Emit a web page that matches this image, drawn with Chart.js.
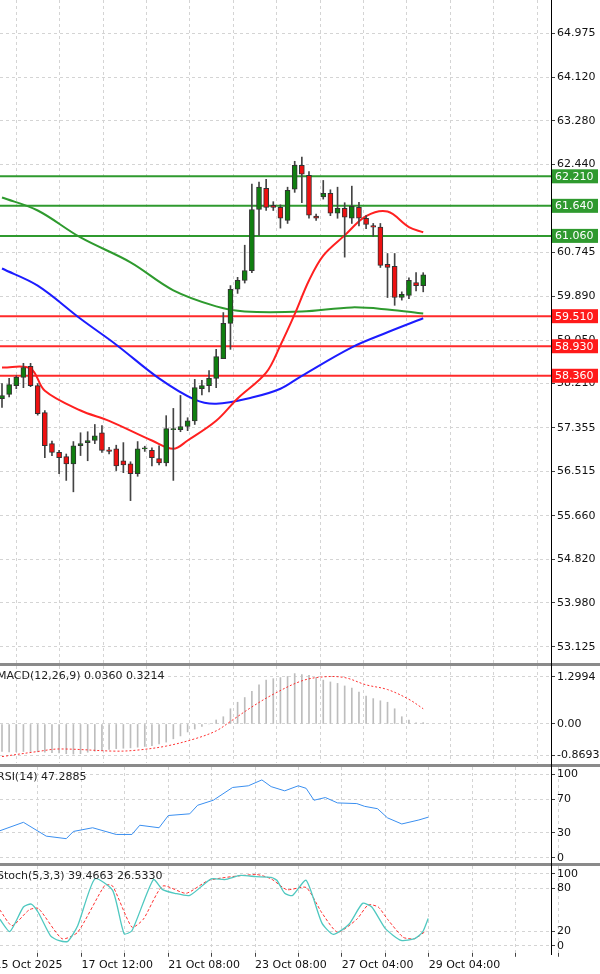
<!DOCTYPE html>
<html>
<head>
<meta charset="utf-8">
<script src="https://cdn.jsdelivr.net/npm/chart.js@4"></script>
<style>
  body { margin: 0; background: #fff; width: 600px; height: 974px; position: relative; overflow: hidden; }
  canvas { position: absolute; left: 0; }
  .sep { position: absolute; left: 0; width: 600px; height: 3px; background: #8a8a8a; }
  .vline { position: absolute; left: 551px; top: 0; width: 1px; height: 955px; background: #000; }
  .title { position: absolute; left: -3px; font: 11px "DejaVu Sans", sans-serif; color: #222; }
</style>
</head>
<body>
<canvas id="main" width="600" height="663" style="top:0"></canvas>
<div class="sep" style="top:663px"></div>
<canvas id="macd" width="600" height="97" style="top:666px"></canvas>
<div class="sep" style="top:764px"></div>
<canvas id="rsi" width="600" height="96" style="top:767px"></canvas>
<div class="sep" style="top:863px"></div>
<canvas id="stoch" width="600" height="108" style="top:866px"></canvas>
<div class="vline"></div>
<div class="title" style="top:669px">MACD(12,26,9) 0.0360 0.3214</div>
<div class="title" style="top:770px">RSI(14) 47.2885</div>
<div class="title" style="top:869px">Stoch(5,3,3) 39.4663 26.5330</div>
<script>
// candles: open, high, low, close (one per bar)
const opens  = [57.92,58.00,58.17,58.33,58.54,58.17,57.65,57.05,56.88,56.80,56.66,57.01,57.07,57.11,57.26,56.93,56.95,56.72,56.66,56.47,56.95,56.92,56.76,56.68,57.32,57.32,57.38,57.49,58.11,58.17,58.31,58.69,59.37,60.03,60.20,60.39,61.57,61.98,61.65,61.61,61.36,61.96,62.42,62.23,61.44,61.81,61.88,61.50,61.59,61.40,61.61,61.40,61.26,61.23,60.51,60.47,59.87,59.91,60.16,60.10];
const highs  = [58.21,58.31,58.36,58.60,58.60,58.21,57.69,57.10,56.92,56.85,57.09,57.26,57.28,57.42,57.40,56.98,57.02,57.07,56.70,57.09,57.00,56.97,57.01,57.59,57.73,57.98,57.55,58.29,58.27,58.46,58.87,59.58,60.10,60.26,60.88,62.06,62.10,62.15,61.72,61.66,62.00,62.50,62.58,62.30,61.48,62.13,61.95,62.00,61.70,62.02,61.71,61.45,61.30,61.30,60.72,60.72,59.98,60.25,60.35,60.35];
const lows   = [57.75,57.95,58.11,58.13,58.15,57.60,56.78,56.82,56.47,56.34,56.12,56.82,56.72,57.05,56.88,56.85,56.53,56.49,55.95,56.42,56.90,56.62,56.64,56.62,56.34,57.28,57.30,57.42,57.99,58.05,58.13,58.85,58.87,59.95,60.15,60.35,61.07,61.55,61.55,61.21,61.30,61.90,61.70,61.40,61.36,61.77,61.45,61.40,60.65,61.30,61.25,61.20,61.05,60.45,59.87,59.72,59.82,59.85,60.00,59.98];
const closes = [57.98,58.19,58.33,58.52,58.17,57.63,57.01,56.88,56.78,56.66,57.01,57.05,57.11,57.20,56.92,56.90,56.62,56.64,56.47,56.95,56.97,56.78,56.68,57.34,57.34,57.38,57.49,58.13,58.17,58.31,58.73,59.37,60.03,60.20,60.39,61.57,62.00,61.61,61.61,61.40,61.94,62.42,62.25,61.46,61.40,61.88,61.50,61.59,61.42,61.63,61.40,61.28,61.23,60.49,60.45,59.87,59.93,60.20,60.10,60.31];

// moving averages read at key bars
const maRedX   = [0,4,6,11,15,21,24,26,30,33,37,39,41,43,45,48,51,54,57,59];
const maRedY   = [58.52,58.50,58.07,57.69,57.49,57.11,56.95,57.11,57.49,57.92,58.42,58.95,59.55,60.20,60.68,61.07,61.44,61.53,61.23,61.13];
const maBlueX  = [0,5,11,16,22,27,30,35,39,42,49,54,59];
const maBlueY  = [60.43,60.10,59.46,58.96,58.31,57.90,57.82,57.94,58.11,58.36,58.91,59.20,59.47];
const maGreenX = [0,5,11,18,24,30,34,42,49,54,59];
const maGreenY = [61.80,61.55,61.03,60.55,60.01,59.70,59.60,59.60,59.68,59.64,59.56];

const resistLevels = [62.210, 61.640, 61.060];
const supportLevels = [59.510, 58.930, 58.360];
const priceTicks = [64.975,64.120,63.280,62.440,60.745,59.890,59.050,58.210,57.355,56.515,55.660,54.820,53.980,53.125];

const macdHist = [-0.76,-0.77,-0.77,-0.76,-0.76,-0.77,-0.78,-0.79,-0.80,-0.82,-0.83,-0.82,-0.78,-0.75,-0.72,-0.70,-0.68,-0.67,-0.66,-0.64,-0.62,-0.60,-0.55,-0.50,-0.41,-0.33,-0.22,-0.14,-0.07,0.00,0.11,0.20,0.42,0.60,0.73,0.90,1.08,1.21,1.25,1.28,1.31,1.39,1.36,1.34,1.28,1.21,1.16,1.12,1.05,0.99,0.88,0.77,0.70,0.64,0.60,0.42,0.20,0.11,0.03,0.036];
const macdSigX = [0,5,8,16,19,23,27,30,32,35,38,42,45,48,51,54,57,59];
const macdSigY = [-0.90,-0.76,-0.69,-0.75,-0.72,-0.61,-0.41,-0.19,0.07,0.47,0.82,1.19,1.30,1.28,1.08,0.95,0.68,0.42];

const rsiX = [-0.3,3,6.2,9,10,12.7,16,18.2,19.3,22,23.3,26.3,27.4,29.6,32.3,34.5,36.4,37.7,39.6,41.5,42.6,43.7,45.3,47,49.7,50.8,52.6,54,56,58.4,59.7];
const rsiY = [32.4,42.5,26,23,31.6,36,28,28,39,36,50.6,52.6,62.8,68.8,84,86,93,85,80,86,83,68.8,72,65.6,64.8,61.5,58.7,47.8,40.5,45.3,48.6];

const stochKX = [-0.3,1.1,3,4.1,5.1,6.8,7.9,9.2,10.6,13,15.5,17.1,18.2,21.2,22.5,24.2,26.3,29.3,31.2,33.4,35.6,37.7,38.5,39.6,40.7,42.6,44.8,46.4,48.6,50.5,51.8,53.7,55.9,57.8,58.9,59.7];
const stochKY = [37,20,54,58,46,14,7.7,6.3,28,93,77,17,21,92,78,73,70,93,92,97.7,96,95,91,73,70,91,32,16,30,59,54,24,7.7,10,19,38];
const stochDX = [-0.3,1.4,3.8,5.1,8.4,10.6,14.4,15.5,18.2,19.8,22.5,25.8,29,35.6,37.7,39.9,42.6,44.8,47,49.7,51.3,52.7,54,56.2,57.8,59.4];
const stochDY = [50,28,50,52,10,19,84,83,26,37,83,73,91,99,93,78,81,46,19,37,57,54,37,12,10,21];

const xTickLabels = ['15 Oct 2025','','17 Oct 12:00','','21 Oct 08:00','','23 Oct 08:00','','27 Oct 04:00','','29 Oct 04:00','','',''];

Chart.defaults.font = { family: 'DejaVu Sans', size: 11 };
Chart.defaults.color = '#111';
Chart.defaults.animation = false;
Chart.defaults.plugins.legend.display = false;
Chart.defaults.plugins.tooltip.enabled = false;

const X_MIN = -0.28, X_MAX = 76.9;
const pts = (xs, ys) => xs.map((x, i) => ({ x, y: ys[i] }));
const gridStyle = { color: '#d4d4d4', tickLength: 4, tickColor: '#444' };
const noPad = s => { s.paddingTop = 0; s.paddingBottom = 0; s.paddingLeft = 0; s.paddingRight = 0; };

function xScale(showLabels) {
  return {
    type: 'linear', min: X_MIN, max: X_MAX, offset: false,
    afterBuildTicks: s => { s.ticks = xTickLabels.map((_, k) => ({ value: 5.04 + 6.08 * (k - 1) })); },
    afterFit: s => { noPad(s); if (!showLabels) s.height = 0; },
    grid: { ...gridStyle, drawTicks: showLabels },
    border: { display: false, dash: [3, 3] },
    ticks: {
      display: showLabels, autoSkip: false, maxRotation: 0, align: 'start', padding: 2,
      callback: (v, i) => xTickLabels[i]
    }
  };
}
function yScale(min, max, ticks, fmt) {
  return {
    position: 'right', min, max,
    afterBuildTicks: s => { s.ticks = ticks.map(v => ({ value: v })); },
    afterFit: s => { noPad(s); s.width = 49; },
    grid: gridStyle,
    border: { display: false, dash: [3, 3] },
    ticks: { padding: 2, callback: fmt }
  };
}
const line = (data, color, width, extra) => Object.assign({
  type: 'line', data, borderColor: color, borderWidth: width, pointRadius: 0, tension: 0.35, order: 2
}, extra || {});

// level labels on the right axis
const levelBoxes = {
  id: 'levelBoxes',
  afterDraw(chart) {
    const { ctx, scales: { y } } = chart;
    const draw = (v, c) => {
      const py = y.getPixelForValue(v);
      ctx.fillStyle = c;
      ctx.fillRect(552, py - 7, 46, 14);
      ctx.fillStyle = '#fff';
      ctx.font = '11px "DejaVu Sans"';
      ctx.textBaseline = 'middle';
      ctx.fillText(v.toFixed(3), 555, py + 0.5);
    };
    resistLevels.forEach(v => draw(v, '#2f9a2f'));
    supportLevels.forEach(v => draw(v, '#ff1a1a'));
  }
};

const idx = opens.map((_, i) => i);
const up = idx.map(i => closes[i] >= opens[i]);
const levelLine = (v, c) => line([{ x: X_MIN, y: v }, { x: X_MAX, y: v }], c, 2, { tension: 0, order: 3 });

new Chart(document.getElementById('main'), {
  type: 'bar',
  data: {
    datasets: [
      { data: idx.map(i => ({ x: i, y: [opens[i], closes[i]] })), backgroundColor: up.map(u => u ? '#0f7f0f' : '#ee1111'),
        borderColor: '#333', borderWidth: 1, borderSkipped: false, barThickness: 5, grouped: false, order: 0 },
      { data: idx.map(i => ({ x: i, y: [lows[i], highs[i]] })), backgroundColor: '#444', barThickness: 1, grouped: false, order: 1 },
      line(pts(maRedX, maRedY), '#ff2020', 2),
      line(pts(maBlueX, maBlueY), '#1c1cff', 2),
      line(pts(maGreenX, maGreenY), '#2e9a2e', 2),
      ...resistLevels.map(v => levelLine(v, '#2f9a2f')),
      ...supportLevels.map(v => levelLine(v, '#ff2a2a'))
    ]
  },
  options: {
    responsive: false, layout: { padding: 0 },
    scales: {
      x: xScale(false),
      y: yScale(52.816, 65.613, priceTicks, v => v.toFixed(3))
    }
  },
  plugins: [levelBoxes]
});

new Chart(document.getElementById('macd'), {
  type: 'bar',
  data: {
    datasets: [
      { data: idx.map(i => ({ x: i, y: macdHist[i] })), backgroundColor: '#bdbdbd', barThickness: 1, grouped: false, order: 1 },
      line(pts(macdSigX, macdSigY), '#ff3030', 1, { borderDash: [2, 2], order: 0 })
    ]
  },
  options: {
    responsive: false, layout: { padding: 0 },
    scales: {
      x: xScale(false),
      y: yScale(-1.077, 1.60, [1.2994, 0, -0.8693], v => v === 0 ? '0.00' : v.toFixed(4))
    }
  }
});

new Chart(document.getElementById('rsi'), {
  type: 'line',
  data: { datasets: [line(pts(rsiX, rsiY), '#3a8ff0', 1, { tension: 0 })] },
  options: {
    responsive: false, layout: { padding: 0 },
    scales: { x: xScale(false), y: yScale(-6, 108.4, [100, 70, 30, 0], v => String(v)) }
  }
});

new Chart(document.getElementById('stoch'), {
  type: 'line',
  data: {
    datasets: [
      line(pts(stochKX, stochKY), '#4fc8c0', 1.3, { tension: 0.2 }),
      line(pts(stochDX, stochDY), '#ff3030', 1, { tension: 0.2, borderDash: [3, 2] })
    ]
  },
  options: {
    responsive: false, layout: { padding: 0 },
    scales: { x: xScale(true), y: yScale(-9.5, 110.8, [100, 80, 20, 0], v => String(v)) }
  }
});
</script>
</body>
</html>
